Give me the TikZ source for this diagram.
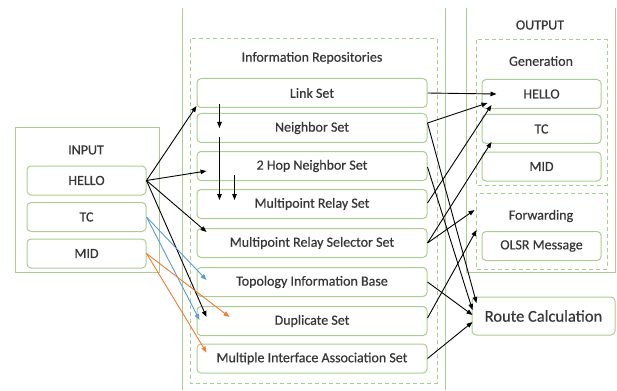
\documentclass[tikz,border=0pt]{standalone}
\usepackage{fontspec}
\setmainfont{Carlito}
\newfontfamily\labelfont{Carlito}[FakeBold=0.5,AutoFakeBold=0.5,BoldFont=Carlito]
\usetikzlibrary{arrows.meta,calc}
\definecolor{boxgreen}{RGB}{170,205,145}
\definecolor{tcblue}{RGB}{91,155,213}
\definecolor{midorange}{RGB}{237,125,49}
\definecolor{textgray}{RGB}{55,55,55}
\tikzset{
  frame/.style={draw=boxgreen,line width=1pt},
  group/.style={draw=boxgreen,line width=1pt,dash pattern=on 4pt off 3pt},
  item/.style={draw=boxgreen,line width=1pt,rounded corners=4pt,fill=white,
    minimum height=29pt,inner sep=0pt,text=textgray,
    font=\labelfont\bfseries\fontsize{14}{16}\selectfont},
  title/.style={text=textgray,font=\labelfont\bfseries\fontsize{14}{16}\selectfont},
  arr/.style={-{Triangle[length=6pt,width=4.5pt]},line width=0.9pt},
}
\begin{document}
\begin{tikzpicture}[x=1pt,y=-1pt]
  \useasboundingbox (0,0) rectangle (617,390);
  % columns
  \draw[frame] (15,128) rectangle (159,272);
  \draw[frame] (182,8) -- (182,390);
  \draw[frame] (445,8) -- (445,390);
  \draw[frame] (466,8) -- (466,272) -- (615,272) -- (615,8);
  \draw[group] (190,39) rectangle (437,383);
  \draw[group] (476,40) rectangle (607,185);
  \draw[group] (476,193) rectangle (607,269);

  % input messages
  \node[title] (input) at (86,150) {INPUT};
  \node[item,minimum width=119pt] (hello) at (86.5,180.5) {HELLO};
  \node[item,minimum width=119pt] (tc) at (86.5,217) {TC};
  \node[item,minimum width=119pt] (mid) at (86.5,253.5) {MID};

  % information repositories
  \node[title] (repos) at (312,58) {Information Repositories};
  \foreach \name/\y/\txt in {link/93/Link Set,neigh/128/Neighbor Set,
      twohop/166/2 Hop Neighbor Set,mrs/204/Multipoint Relay Set,
      mprs/243/Multipoint Relay Selector Set,topo/282/Topology Information Base,
      dup/321/Duplicate Set,mias/358.5/Multiple Interface Association Set}{
    \node[item,minimum width=230pt] (\name) at (312,\y) {\txt};
  }

  % output
  \node[title] (output) at (540,25) {OUTPUT};
  \node[title] (gen) at (541,61) {Generation};
  \node[item,minimum width=119pt] (genhello) at (541.5,94) {HELLO};
  \node[item,minimum width=119pt] (gentc) at (541.5,129) {TC};
  \node[item,minimum width=119pt] (genmid) at (541.5,166.5) {MID};
  \node[title] (fwd) at (541,216) {Forwarding};
  \node[item,minimum width=119pt] (olsr) at (541.5,246) {OLSR Message};
  \node[item,minimum width=143pt,minimum height=38pt,
    font=\labelfont\bfseries\fontsize{16.5}{18}\selectfont] (route) at (543.5,316) {Route Calculation};

  % HELLO input
  \draw[arr] (hello.east) -- ($(link.south west)+(0,-2)$);
  \draw[arr] (hello.east) -- ($(twohop.west)+(10,5)$);
  \draw[arr] (hello.east) -- ($(mprs.west)+(10,-11)$);
  \draw[arr] (hello.east) -- ($(dup.west)+(10,-4)$);
  % TC and MID input
  \draw[arr,tcblue] (tc.east) -- ($(topo.west)+(10,-2)$);
  \draw[arr,tcblue] (tc.east) -- ($(dup.west)+(3,-1)$);
  \draw[arr,midorange] (mid.east) -- ($(dup.west)+(33,-4)$);
  \draw[arr,midorange] (mid.east) -- ($(mias.west)+(10,-6)$);

  % updates inside the repositories
  \draw[arr] ($(link.west)+(23,11)$) -- ($(neigh.west)+(23,0)$);
  \draw[arr] ($(neigh.west)+(23,9)$) -- ($(mrs.west)+(23,-4)$);
  \draw[arr] ($(twohop.west)+(38,9)$) -- ($(mrs.west)+(38,-4)$);

  % repositories to output
  \draw[arr] (link.east) -- ($(genhello.west)+(15,0)$);
  \draw[arr] ($(neigh.east)+(0,-5)$) -- ($(genhello.west)+(6,9)$);
  \draw[arr] ($(neigh.east)+(0,-5)$) -- ($(route.west)+(5,-13)$);
  \draw[arr] ($(twohop.east)+(0,1)$) -- ($(route.west)+(1,-6)$);
  \draw[arr] ($(mrs.east)+(0,-1)$) -- ($(genhello.west)+(10,11)$);
  \draw[arr] (mprs.east) -- ($(gentc.west)+(10,13)$);
  \draw[arr] (mprs.east) -- ($(olsr.north west)+(-7,-21)$);
  \draw[arr] (topo.east) -- ($(route.west)+(1,-1)$);
  \draw[arr] ($(dup.east)+(0,-3)$) -- ($(olsr.west)+(-5,-16)$);
  \draw[arr] (mias.east) -- ($(route.west)+(1,6)$);
\end{tikzpicture}
\end{document}
